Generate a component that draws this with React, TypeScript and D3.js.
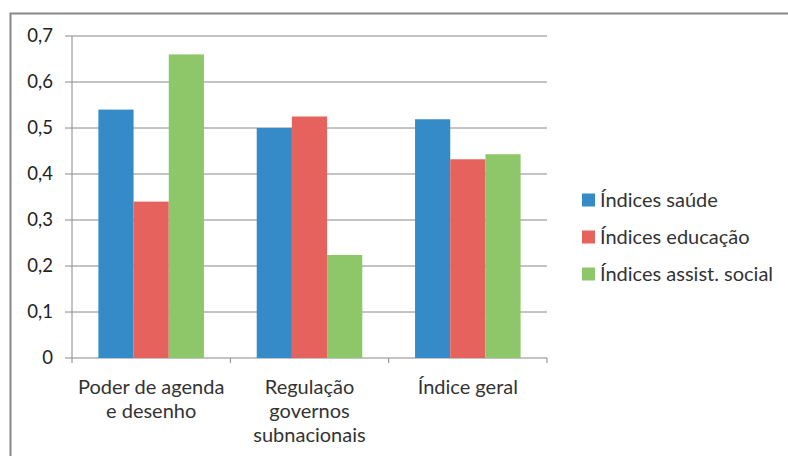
import React from "react";
import * as d3 from "d3";

const categories = [["Poder de agenda", "e desenho"], ["Regulação", "governos", "subnacionais"], ["Índice geral"]];
const seriesNames = ["Índices saúde", "Índices educação", "Índices assist. social"];
const saude = [0.54, 0.5, 0.519];
const educacao = [0.34, 0.525, 0.432];
const assist = [0.66, 0.224, 0.443];
const yTicks = [0, 0.1, 0.2, 0.3, 0.4, 0.5, 0.6, 0.7];
const colors = ["#358bc8", "#e6625d", "#8dc76a"];

export default function App() {
  const W = 788, H = 456;
  const left = 72, right = 547, top = 36, bottom = 358;
  const series = [saude, educacao, assist];
  const x = d3.scaleBand<number>().domain(d3.range(categories.length)).range([left, right]);
  const inner = d3.scaleBand<number>().domain(d3.range(3)).range([0, x.bandwidth()]).paddingOuter(0.75);
  const y = d3.scaleLinear().domain([0, 0.7]).range([bottom, top]);
  const font = "Lato, 'Open Sans', sans-serif";
  const fmt = (v: number) => (v === 0 ? "0" : v.toFixed(1).replace(".", ","));
  return (
    <svg width={W} height={H} style={{ position: "absolute", left: 0, top: 0 }} fontFamily={font}>
      <rect x={0} y={0} width={W} height={H} fill="#fff" />
      <path d={`M10.5,${H + 2}V13.5H${W + 2}`} fill="none" stroke="#888" strokeWidth={2} />
      {yTicks.map((t) => (
        <g key={t}>
          <line x1={65} x2={right} y1={y(t)} y2={y(t)} stroke="#888" strokeWidth={1} />
          <text x={53} y={y(t)} dy="0.35em" textAnchor="end" fontSize={18.5} fill="#222">{fmt(t)}</text>
        </g>
      ))}
      <line x1={left} x2={left} y1={top} y2={bottom} stroke="#888" />
      {d3.range(categories.length + 1).map((i) => {
        const xx = i < categories.length ? x(i)! : right;
        return <line key={i} x1={xx} x2={xx} y1={bottom} y2={bottom + 5} stroke="#888" />;
      })}
      {series.map((vals, s) =>
        vals.map((v, i) => (
          <rect key={`${s}-${i}`} x={x(i)! + inner(s)!} y={y(v)} width={inner.bandwidth()} height={bottom - y(v)} fill={colors[s]} />
        ))
      )}
      {categories.map((lines, i) => (
        <text key={i} textAnchor="middle" fontSize={20} fill="#333">
          {lines.map((l, j) => (
            <tspan key={j} x={x(i)! + x.bandwidth() / 2} y={386.5 + j * 24} dy="0.35em">{l}</tspan>
          ))}
        </text>
      ))}
      {seriesNames.map((n, s) => (
        <g key={n} transform={`translate(582,${200 + s * 37})`}>
          <rect x={0} y={-6.5} width={13} height={13} fill={colors[s]} />
          <text x={18} y={0} dy="0.35em" fontSize={20} fill="#333">{n}</text>
        </g>
      ))}
    </svg>
  );
}
